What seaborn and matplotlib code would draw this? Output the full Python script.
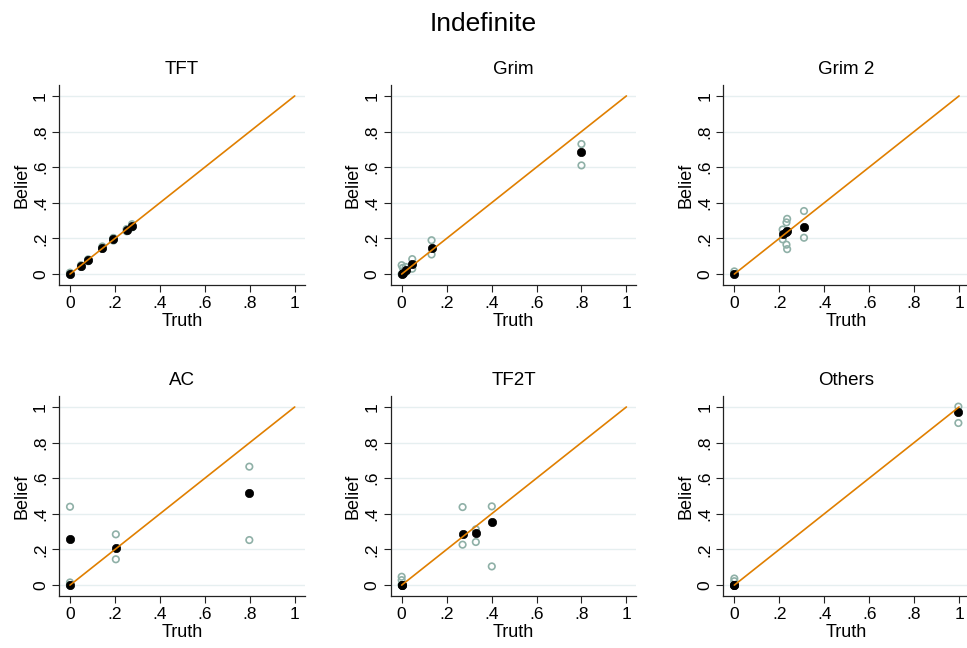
import numpy as np
import pandas as pd
import matplotlib
matplotlib.use('Agg')
import matplotlib.pyplot as plt
import seaborn as sns

# Panels (strategy types)
panels = ['TFT', 'Grim', 'Grim 2', 'AC', 'TF2T', 'Others']

# Per-panel values: true frequency, mean belief, lower / upper bound
tft_truth = [0, 0.049, 0.081, 0.144, 0.193, 0.252, 0.276]
tft_belief = [0, 0.045, 0.077, 0.148, 0.195, 0.245, 0.270]
tft_lower = [0, 0.040, 0.072, 0.142, 0.188, 0.240, 0.262]
tft_upper = [0.008, 0.050, 0.083, 0.155, 0.203, 0.253, 0.280]

grim_truth = [0, 0.005, 0.018, 0.047, 0.133, 0.800]
grim_belief = [0, 0.008, 0.022, 0.054, 0.148, 0.683]
grim_lower = [0, 0, 0.012, 0.030, 0.110, 0.610]
grim_upper = [0.050, 0.035, 0.040, 0.084, 0.190, 0.730]

grim2_truth = [0, 0.215, 0.232, 0.235, 0.310]
grim2_belief = [0, 0.225, 0.237, 0.242, 0.266]
grim2_lower = [0, 0.195, 0.165, 0.140, 0.204]
grim2_upper = [0.015, 0.250, 0.290, 0.310, 0.354]

ac_truth = [0, 0, 0.204, 0.798]
ac_belief = [0, 0.258, 0.210, 0.515]
ac_lower = [0, 0, 0.145, 0.253]
ac_upper = [0.015, 0.440, 0.285, 0.665]

tf2t_truth = [0, 0, 0.271, 0.330, 0.401]
tf2t_belief = [0, 0, 0.287, 0.294, 0.352]
tf2t_lower = [0, 0, 0.227, 0.242, 0.105]
tf2t_upper = [0.047, 0.028, 0.438, 0.313, 0.442]

oth_truth = [0, 0, 0.997]
oth_belief = [0, 0, 0.970]
oth_lower = [0, 0, 0.910]
oth_upper = [0.037, 0.022, 1.002]

diag = [0, 1]
ticks = [0, 0.2, 0.4, 0.6, 0.8, 1.0]
tick_labels = ['0', '.2', '.4', '.6', '.8', '1']

data = {
    'TFT': (tft_truth, tft_belief, tft_lower, tft_upper),
    'Grim': (grim_truth, grim_belief, grim_lower, grim_upper),
    'Grim 2': (grim2_truth, grim2_belief, grim2_lower, grim2_upper),
    'AC': (ac_truth, ac_belief, ac_lower, ac_upper),
    'TF2T': (tf2t_truth, tf2t_belief, tf2t_lower, tf2t_upper),
    'Others': (oth_truth, oth_belief, oth_lower, oth_upper),
}

sns.set_style('white')
plt.rcParams['font.family'] = ['Liberation Sans', 'DejaVu Sans']
plt.rcParams['text.color'] = 'black'
plt.rcParams['axes.labelcolor'] = 'black'
plt.rcParams['xtick.color'] = 'black'
plt.rcParams['ytick.color'] = 'black'

fig = plt.figure(figsize=(9.67, 6.48), dpi=100)
fig.suptitle('Indefinite', fontsize=19, y=0.982)

lefts = [0.061, 0.404, 0.748]
bottoms = [0.560, 0.080]
w, h = 0.254, 0.309

line_col = '#E07F00'
ci_col = '#8FB0A7'
grid_col = '#E6EFF0'

for i, name in enumerate(panels):
    ax = fig.add_axes([lefts[i % 3], bottoms[i // 3], w, h])
    truth, belief, lower, upper = data[name]
    df_ci = pd.DataFrame({'Truth': truth * 2, 'Belief': lower + upper})
    df_mean = pd.DataFrame({'Truth': truth, 'Belief': belief})

    for t in ticks:
        ax.axhline(t, color=grid_col, lw=1.0, zorder=0)

    sns.scatterplot(data=df_ci, x='Truth', y='Belief', ax=ax, s=22,
                    facecolor='none', edgecolor=ci_col, linewidth=1.2, zorder=2)
    sns.scatterplot(data=df_mean, x='Truth', y='Belief', ax=ax, s=36,
                    color='black', edgecolor='black', linewidth=0.5, zorder=3)
    sns.lineplot(x=diag, y=diag, ax=ax, color=line_col, lw=1.2, zorder=4)

    ax.set_xlim(-0.049, 1.044)
    ax.set_ylim(-0.062, 1.062)
    ax.set_xticks(ticks)
    ax.set_xticklabels(tick_labels)
    ax.set_yticks(ticks)
    ax.set_yticklabels(tick_labels, rotation=90, va='center')
    ax.tick_params(axis='both', direction='out', length=5, width=0.8,
                   labelsize=12.5, color='#222222', pad=3, bottom=True, left=True)
    ax.set_xlabel('Truth', fontsize=13, labelpad=1)
    ax.set_ylabel('Belief', fontsize=13, labelpad=2)
    ax.set_title(name, fontsize=13.5, pad=8)
    sns.despine(ax=ax)
    for sp in ['left', 'bottom']:
        ax.spines[sp].set_color('#222222')
        ax.spines[sp].set_linewidth(0.9)

plt.savefig('out.png', dpi=100, facecolor='white')
